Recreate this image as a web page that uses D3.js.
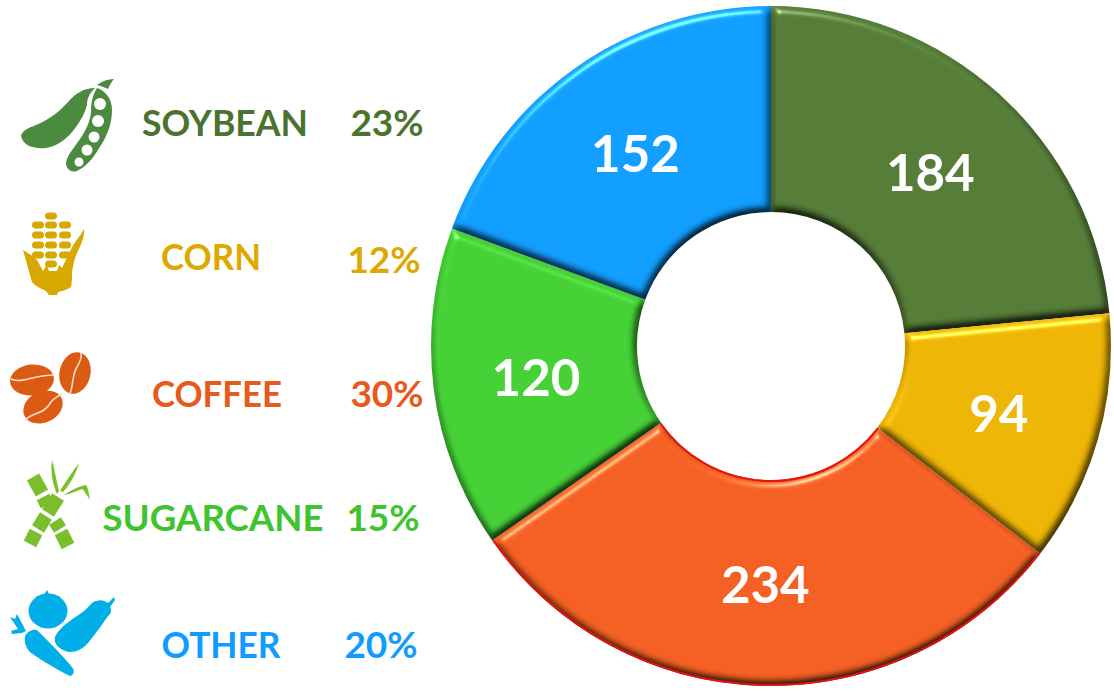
<!DOCTYPE html>
<html>
<head>
<meta charset="utf-8">
<script src="https://cdn.jsdelivr.net/npm/d3@7"></script>
<style>
html,body{margin:0;padding:0;background:#fff}
svg{display:block}
text{font-family:Lato,sans-serif;font-weight:700}
</style>
</head>
<body>
<script>
var categories=["SOYBEAN","CORN","COFFEE","SUGARCANE","OTHER"];
var values=[184,94,234,120,152];
var percents=["23%","12%","30%","15%","20%"];

var sliceColors=["#567d38","#edb506","#f46023","#45d136","#119eff"];
var textColors=["#4b732f","#dda800","#e75a1c","#3fc42f","#0f9bff"];
var rimColor="#e2140f";

// legend rows are not evenly spaced in the picture, so nudge them by hand
var rowY=d3.scaleOrdinal(categories,[136,270,407,531,658]);
var pctY=d3.scaleOrdinal(categories,[136,273,407,531,658]);
var nameX=d3.scaleOrdinal(categories,[225,211,217,213,221]);
var nameW=d3.scaleOrdinal(categories,[166,100,130,221,119]);
var pctX=d3.scaleOrdinal(categories,[387,384,387,383,381]);

var width=1114,height=693,cx=771,cy=346,R=340,r0=134;

var svg=d3.select("body").append("svg")
  .attr("width",width).attr("height",height);

var defs=svg.append("defs");
var bevel=defs.append("filter").attr("id","bevel")
  .attr("x","-5%").attr("y","-5%").attr("width","110%").attr("height","110%")
  .attr("color-interpolation-filters","sRGB");
bevel.append("feGaussianBlur").attr("in","SourceAlpha").attr("stdDeviation",4.2).attr("result","soft");
var diff=bevel.append("feDiffuseLighting").attr("in","soft")
  .attr("surfaceScale",6).attr("diffuseConstant",1.155).attr("lighting-color","#fff").attr("result","diff");
diff.append("feDistantLight").attr("azimuth",250).attr("elevation",60);
bevel.append("feComposite").attr("in","diff").attr("in2","SourceGraphic")
  .attr("operator","arithmetic").attr("k1",1).attr("result","lit");
var spec=bevel.append("feSpecularLighting").attr("in","soft")
  .attr("surfaceScale",6).attr("specularConstant",0.5).attr("specularExponent",40)
  .attr("lighting-color","#fff").attr("result","spec");
spec.append("feDistantLight").attr("azimuth",250).attr("elevation",35);
bevel.append("feComposite").attr("in","spec").attr("in2","SourceAlpha").attr("operator","in").attr("result","specIn");
bevel.append("feComposite").attr("in","lit").attr("in2","specIn")
  .attr("operator","arithmetic").attr("k2",1).attr("k3",1);

var pie=d3.pie().sort(null);
var arc=d3.arc().innerRadius(r0).outerRadius(R);
var color=d3.scaleOrdinal(d3.range(values.length),sliceColors);

var donut=svg.append("g").attr("transform","translate("+cx+","+cy+")");
donut.selectAll("path.slice")
  .data(pie(values))
  .enter()
  .append("path").attr("class","slice")
  .attr("d",arc)
  .attr("fill",function(d){return color(d.index);})
  .attr("filter","url(#bevel)");

// the orange slice has a thin red rim on both of its curved edges
var coffeeSlice=pie(values)[categories.indexOf("COFFEE")];
[R-1,r0+1].forEach(function(rad){
  donut.append("path")
    .attr("d",d3.arc().innerRadius(rad).outerRadius(rad)(coffeeSlice))
    .attr("fill","none")
    .attr("stroke",rimColor)
    .attr("stroke-width",2);
});

donut.selectAll("text")
  .data(pie(values))
  .enter()
  .append("text")
  .attr("x",function(d){return arc.centroid(d)[0];})
  .attr("y",function(d){return arc.centroid(d)[1]+20;})
  .attr("text-anchor","middle")
  .attr("font-size",51)
  .attr("fill","#fff")
  .text(function(d){return d.value;});

var legend=svg.append("g");
legend.selectAll("text.name")
  .data(categories)
  .enter()
  .append("text").attr("class","name")
  .attr("x",function(d){return nameX(d);})
  .attr("y",function(d){return rowY(d);})
  .attr("text-anchor","middle")
  .attr("font-size",36)
  .attr("textLength",function(d){return nameW(d);})
  .attr("lengthAdjust","spacingAndGlyphs")
  .attr("fill",function(d,i){return textColors[i];})
  .text(function(d){return d;});
legend.selectAll("text.pct")
  .data(categories)
  .enter()
  .append("text").attr("class","pct")
  .attr("x",function(d){return pctX(d);})
  .attr("y",function(d){return pctY(d);})
  .attr("text-anchor","middle")
  .attr("font-size",37)
  .attr("fill",function(d,i){return textColors[i];})
  .text(function(d,i){return percents[i];});

// icons, traced by hand in page pixels
var icons=svg.append("g");

// soybean
var soy=icons.append("g").attr("fill","#4b8b3f");
soy.append("path").attr("d","M21,136 C22,131 28,128 36,125 C50,119 60,111 68,102 C76,93 84,88 95,88 C90,93 87,98 87,105 C85,113 81,120 76,127 C68,138 58,146 46,148 C34,149 23,146 21,136Z");
soy.append("path").attr("d","M97,88 C106,91 112,99 112,110 C112,124 107,137 98,150 C92,160 85,167 77,171 C71,173 66,169 66,163 C67,155 74,148 80,139 C86,130 90,122 91,112 C91,104 92,96 97,88Z");
soy.append("path").attr("d","M97,85 C102,81 108,79 114,79 C111,82 110,85 108,89 C104,87 101,86 97,85Z");
soy.selectAll("circle")
  .data([[100,104,6],[98,121,6],[94,137,5.5],[87,150,5.5],[79,162,4.5]])
  .enter().append("circle")
  .attr("cx",function(d){return d[0];}).attr("cy",function(d){return d[1];}).attr("r",function(d){return d[2];})
  .attr("fill","#fff");

// corn
var corn=icons.append("g").attr("fill","#d6a800");
[[51,216],[38,225],[51,225],[65,225],[38,235],[51,235],[65,235],[38,245],[51,245],[65,245],[38,255],[51,255],[65,255],[51,264]]
  .forEach(function(k){
    corn.append("rect").attr("x",k[0]-6).attr("y",k[1]-3.5).attr("width",12).attr("height",7).attr("rx",3.5);
  });
corn.append("path").attr("d","M23,250 C28,253 33,256 37,260 L43,271 L47,265 L49,271 L57,271 L59,265 L62,268 C67,258 71,248 76,241 C79,237 82,233 84,229 C85,236 81,245 77,253 C74,260 73,266 72,272 C72,278 72,283 71,287 C67,290 62,291 58,292 L57,295 L49,295 L46,291 C40,288 35,286 32,282 C29,272 26,260 23,250Z");

// coffee
var coffee=icons.append("g");
[[32,380,22,15.5,-6],[75,373,15.5,21,12],[43,407,20.5,15.5,-25]].forEach(function(b){
  coffee.append("ellipse").attr("rx",b[2]).attr("ry",b[3]).attr("fill","#db5b12")
    .attr("transform","translate("+b[0]+","+b[1]+") rotate("+b[4]+")");
});
coffee.selectAll("path")
  .data(["M11,379 C22,384 34,375 54,375","M70,394 C74,382 72,375 77,367 C80,362 82,357 81,353","M25,420 C33,412 44,415 51,402 C54,398 58,396 62,394"])
  .enter().append("path").attr("d",function(d){return d;})
  .attr("fill","none").attr("stroke","#f6dcc8").attr("stroke-width",1.6);

// sugarcane
var cane=icons.append("g").attr("stroke","#7abf2b").attr("stroke-width",14).attr("fill","none");
cane.selectAll("line")
  .data([[33,477,42,493],[43,497,47,505],[55,521,60,529],[61,532,68,546],[58,497,48,513],[46,516,38,529],[36,532,30,544]])
  .enter().append("line")
  .attr("x1",function(d){return d[0];}).attr("y1",function(d){return d[1];})
  .attr("x2",function(d){return d[2];}).attr("y2",function(d){return d[3];});
cane.append("g").attr("stroke","none").attr("fill","#7abf2b").selectAll("path")
  .data(["M52,460 C50,472 53,485 57,494 L59,491 C56,480 55,470 52,460Z",
         "M79,463 C72,472 65,483 60,491 L63,492 C70,484 76,474 79,463Z",
         "M64,495 C71,490 80,486 86,485 C88,487 89,494 90,500 C86,494 84,490 82,489 C76,491 70,494 64,495Z"])
  .enter().append("path").attr("d",function(d){return d;});

// other
var other=icons.append("g").attr("fill","#00aee8");
other.append("ellipse").attr("cx",48).attr("cy",611).attr("rx",19.5).attr("ry",17.5);
other.append("path").attr("d","M43,596 L47,590 L49,594 L55,595 L50,600 L45,600Z");
other.append("path").attr("d","M55,637 C60,626 72,620 84,611 C90,606 92,601 97,601 C101,599 105,601 108,603 L114,597 L115,600 L110,607 C112,611 111,614 108,616 C102,625 96,633 88,643 C80,652 70,654 63,650 C57,647 54,643 55,637Z");
other.append("path").attr("d","M25,636 C28,631 34,628 38,631 C50,643 62,655 72,667 C75,671 74,675 70,676 C58,670 44,662 30,652 C26,648 24,642 25,636Z");
other.append("path").attr("d","M10,617 L15,619 L17,614 L26,631 L22,633 L12,634 L11,631 L18,629 Z");
</script>
</body>
</html>
